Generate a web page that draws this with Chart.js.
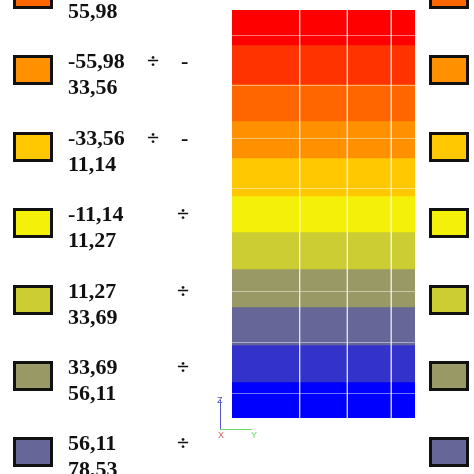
<!DOCTYPE html>
<html>
<head>
<meta charset="utf-8">
<script src="https://cdn.jsdelivr.net/npm/chart.js@4"></script>
<style>
  body { margin: 0; background: #fff; }
  #wrap { position: relative; width: 474px; height: 474px; overflow: hidden; }
  #c { position: absolute; left: 0; top: 0; }
  .box { position: absolute; width: 34px; height: 24px; border: 3px solid #111; }
  .txt { position: absolute; font: bold 22px "Liberation Serif", serif; color: #111; line-height: 26px; white-space: pre; }
</style>
</head>
<body>
<div id="wrap">
  <canvas id="c" width="474" height="474"></canvas>
</div>
<script>
// bands of the contour strip, top to bottom
const bandColors = ['#ff0000', '#ff3300', '#ff6600', '#ff9000', '#ffc800', '#f5f00a',
                    '#cccc33', '#999966', '#666699', '#3333cc', '#0000ff'];
const bandSizes = [35, 39, 37, 37, 38, 36, 37, 38, 38, 37, 36];
const innerLines = [25, 75, 128, 178, 281, 332, 383];
const meshLines = [0.37, 0.63, 0.87];

// legend rows
const legendColors = ['#ff6600', '#ff9000', '#ffc800', '#f5f00a', '#cccc33', '#999966', '#666699'];
const legendFrom = ['', '-55,98', '-33,56', '-11,14', '11,27', '33,69', '56,11'];
const legendTo = ['55,98', '33,56', '11,14', '11,27', '33,69', '56,11', '78,53'];
const legendDash = [true, true, true, false, false, false, false];

const wrap = document.getElementById('wrap');
legendColors.forEach((col, i) => {
  const top = -27 + i * 76.4;
  for (const left of [13, 429]) {
    const b = document.createElement('div');
    b.className = 'box';
    b.style.left = left + 'px';
    b.style.top = (top + 6) + 'px';
    b.style.background = col;
    wrap.appendChild(b);
  }
  const t = document.createElement('div');
  t.className = 'txt';
  t.style.left = '68px';
  t.style.top = (top - 1) + 'px';
  t.textContent = legendFrom[i] + '\n' + legendTo[i];
  wrap.appendChild(t);
  if (legendFrom[i]) {
    const d = document.createElement('div');
    d.className = 'txt';
    d.style.top = (top - 1) + 'px';
    d.style.left = legendDash[i] ? '147px' : '177px';
    d.textContent = legendDash[i] ? '÷    -' : '÷';
    wrap.appendChild(d);
  }
});

// little axis triad
const triad = document.createElement('div');
triad.innerHTML =
  '<div style="position:absolute;left:220px;top:400px;width:1px;height:30px;background:#55c"></div>' +
  '<div style="position:absolute;left:220px;top:429px;width:32px;height:1px;background:#6d6"></div>' +
  '<div style="position:absolute;left:217px;top:395px;font:9px sans-serif;color:#55c">Z</div>' +
  '<div style="position:absolute;left:218px;top:430px;font:9px sans-serif;color:#d55">X</div>' +
  '<div style="position:absolute;left:251px;top:430px;font:9px sans-serif;color:#6d6">Y</div>';
wrap.appendChild(triad);

const bandSets = bandSizes.map((v, i) => ({
  type: 'bar',
  data: [{ x: 0.5, y: v }],
  backgroundColor: bandColors[i],
  borderWidth: 0,
  barThickness: 183,
  grouped: false,
  stack: 'bands',
  order: 2
}));
const meshSets = meshLines.map((m, i) => ({
  type: 'line',
  stack: 'mesh' + i,
  data: [{ x: m, y: 0 }, { x: m, y: 408 }],
  borderColor: 'rgba(255,255,255,0.55)',
  borderWidth: 1,
  pointRadius: 0,
  order: 1
}));

new Chart(document.getElementById('c'), {
  data: { datasets: bandSets.concat(meshSets) },
  options: {
    responsive: false,
    animation: false,
    layout: { padding: { left: 232, right: 59, top: 10, bottom: 56 } },
    plugins: { legend: { display: false }, tooltip: { enabled: false } },
    scales: {
      x: { type: 'linear', min: 0, max: 1, offset: false, display: false },
      y: {
        stacked: true, reverse: true, min: 0, max: 408,
        afterBuildTicks: s => { s.ticks = innerLines.map(v => ({ value: v })); },
        grid: { color: 'rgba(255,255,255,0.45)', z: 1, drawTicks: false },
        ticks: { display: false }, border: { display: false }
      }
    }
  }
});
</script>
</body>
</html>
